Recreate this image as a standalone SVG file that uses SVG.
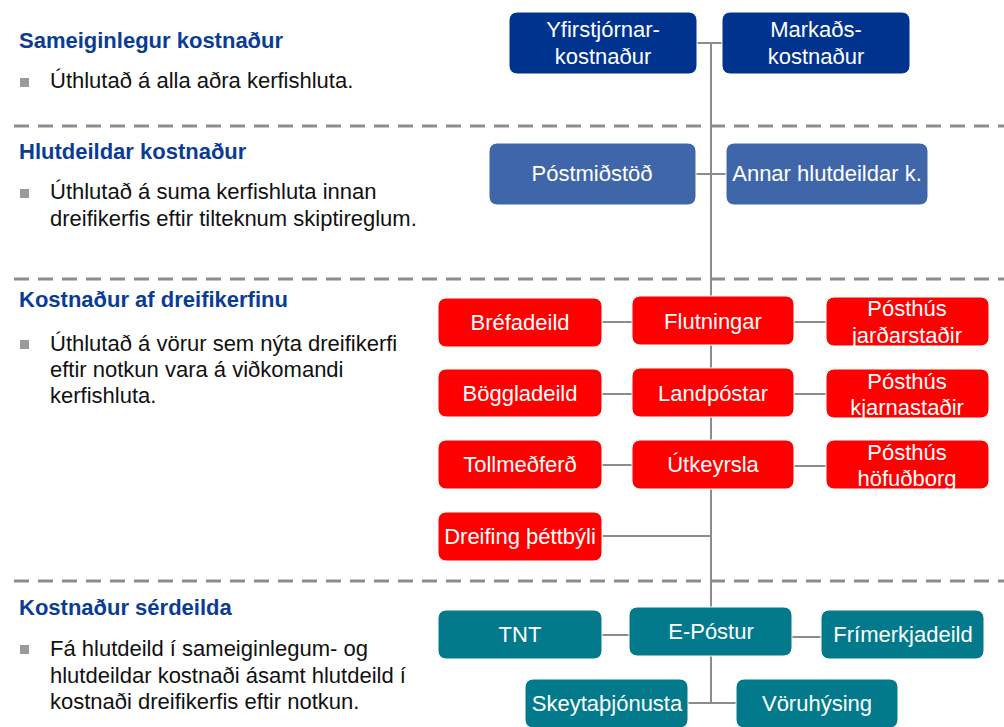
<svg xmlns="http://www.w3.org/2000/svg" width="1004" height="727" viewBox="0 0 1004 727">
<style>
.bg{fill:#ffffff}
.sep{stroke:#8c8c8c;stroke-width:3;stroke-dasharray:15 9;fill:none}
.head{font-family:"Liberation Sans",Arial,sans-serif;font-size:22px;font-weight:bold;fill:#0a3c96}
.body{font-family:"Liberation Sans",Arial,sans-serif;font-size:22px;fill:#111111}
.bul{fill:#9a9a9a}
.con{stroke:#8c8c8c;stroke-width:2;fill:none}
.box{stroke:#ffffff;stroke-width:1}
.navy{fill:#00338d}
.mid{fill:#4066aa}
.red{fill:#ff0000}
.teal{fill:#027a8c}
.lbl{font-family:"Liberation Sans",Arial,sans-serif;font-size:22px;fill:#ffffff;text-anchor:middle}
</style>
<rect class="bg" x="0" y="0" width="1004" height="727"/>
<g id="separators">
<line class="sep" x1="14" y1="126" x2="1004" y2="126"/>
<line class="sep" x1="14" y1="279" x2="1004" y2="279"/>
<line class="sep" x1="14" y1="581" x2="1004" y2="581"/>
</g>
<g id="legend">
<text class="head" x="19" y="48">Sameiginlegur kostnaður</text>
<rect class="bul" x="20" y="78" width="9" height="9"/>
<text class="body" x="50" y="88">Úthlutað á alla aðra kerfishluta.</text>
<text class="head" x="19" y="159">Hlutdeildar kostnaður</text>
<rect class="bul" x="20" y="189" width="9" height="9"/>
<text class="body" x="50" y="199">Úthlutað á suma kerfishluta innan</text>
<text class="body" x="50" y="226">dreifikerfis eftir tilteknum skiptireglum.</text>
<text class="head" x="19" y="307">Kostnaður af dreifikerfinu</text>
<rect class="bul" x="20" y="340" width="9" height="9"/>
<text class="body" x="50" y="351">Úthlutað á vörur sem nýta dreifikerfi</text>
<text class="body" x="50" y="377">eftir notkun vara á viðkomandi</text>
<text class="body" x="50" y="403">kerfishluta.</text>
<text class="head" x="19" y="615">Kostnaður sérdeilda</text>
<rect class="bul" x="20" y="645" width="9" height="9"/>
<text class="body" x="50" y="656">Fá hlutdeild í sameiginlegum- og</text>
<text class="body" x="50" y="683">hlutdeildar kostnaði ásamt hlutdeild í</text>
<text class="body" x="50" y="709">kostnaði dreifikerfis eftir notkun.</text>
</g>
<g id="connectors">
<line class="con" x1="697" y1="43" x2="722" y2="43"/>
<line class="con" x1="711" y1="43" x2="711" y2="607"/>
<line class="con" x1="696" y1="174" x2="726" y2="174"/>
<line class="con" x1="602" y1="322" x2="632" y2="322"/>
<line class="con" x1="794" y1="322" x2="826" y2="322"/>
<line class="con" x1="602" y1="394" x2="632" y2="394"/>
<line class="con" x1="794" y1="394" x2="826" y2="394"/>
<line class="con" x1="602" y1="465" x2="632" y2="465"/>
<line class="con" x1="794" y1="466" x2="826" y2="466"/>
<line class="con" x1="602" y1="536" x2="712" y2="536"/>
<line class="con" x1="602" y1="635" x2="629" y2="635"/>
<line class="con" x1="792" y1="637" x2="821" y2="637"/>
<line class="con" x1="711" y1="656" x2="711" y2="703"/>
<line class="con" x1="688" y1="703" x2="736" y2="703"/>
</g>
<g id="n-yfirstjornar"><rect class="box navy" x="509" y="12" width="188" height="62" rx="8"/><text class="lbl" x="603" y="37">Yfirstjórnar-</text><text class="lbl" x="603" y="64">kostnaður</text></g>
<g id="n-markads"><rect class="box navy" x="722" y="12" width="188" height="62" rx="8"/><text class="lbl" x="816" y="37">Markaðs-</text><text class="lbl" x="816" y="64">kostnaður</text></g>
<g id="n-postmidstod"><rect class="box mid" x="489" y="143" width="207" height="62" rx="8"/><text class="lbl" x="592" y="181">Póstmiðstöð</text></g>
<g id="n-annar"><rect class="box mid" x="726" y="143" width="202" height="62" rx="8"/><text class="lbl" x="827" y="181">Annar hlutdeildar k.</text></g>
<g id="n-brefadeild"><rect class="box red" x="438" y="298" width="164" height="49" rx="8"/><text class="lbl" x="520" y="330">Bréfadeild</text></g>
<g id="n-flutningar"><rect class="box red" x="632" y="296" width="162" height="49" rx="8"/><text class="lbl" x="713" y="329">Flutningar</text></g>
<g id="n-jardarstadir"><rect class="box red" x="826" y="297" width="163" height="49" rx="8"/><text class="lbl" x="907" y="316">Pósthús</text><text class="lbl" x="907" y="343">jarðarstaðir</text></g>
<g id="n-boggladeild"><rect class="box red" x="438" y="369" width="164" height="48" rx="8"/><text class="lbl" x="520" y="401">Böggladeild</text></g>
<g id="n-landpostar"><rect class="box red" x="632" y="368" width="162" height="49" rx="8"/><text class="lbl" x="713" y="401">Landpóstar</text></g>
<g id="n-kjarnastadir"><rect class="box red" x="826" y="369" width="163" height="49" rx="8"/><text class="lbl" x="907" y="389">Pósthús</text><text class="lbl" x="907" y="415">kjarnastaðir</text></g>
<g id="n-tollmedferd"><rect class="box red" x="438" y="440" width="164" height="49" rx="8"/><text class="lbl" x="520" y="472">Tollmeðferð</text></g>
<g id="n-utkeyrsla"><rect class="box red" x="632" y="440" width="162" height="49" rx="8"/><text class="lbl" x="713" y="472">Útkeyrsla</text></g>
<g id="n-hofudborg"><rect class="box red" x="826" y="440" width="163" height="49" rx="8"/><text class="lbl" x="907" y="460">Pósthús</text><text class="lbl" x="907" y="486">höfuðborg</text></g>
<g id="n-dreifing"><rect class="box red" x="438" y="512" width="164" height="49" rx="8"/><text class="lbl" x="520" y="544">Dreifing þéttbýli</text></g>
<g id="n-tnt"><rect class="box teal" x="438" y="610" width="164" height="49" rx="8"/><text class="lbl" x="520" y="642">TNT</text></g>
<g id="n-epostur"><rect class="box teal" x="629" y="607" width="163" height="49" rx="8"/><text class="lbl" x="711" y="639">E-Póstur</text></g>
<g id="n-frimerkjadeild"><rect class="box teal" x="821" y="610" width="163" height="49" rx="8"/><text class="lbl" x="903" y="642">Frímerkjadeild</text></g>
<g id="n-skeytathjonusta"><rect class="box teal" x="525" y="679" width="163" height="49" rx="8"/><text class="lbl" x="607" y="711">Skeytaþjónusta</text></g>
<g id="n-voruhysing"><rect class="box teal" x="736" y="679" width="162" height="49" rx="8"/><text class="lbl" x="817" y="711">Vöruhýsing</text></g>
</svg>
